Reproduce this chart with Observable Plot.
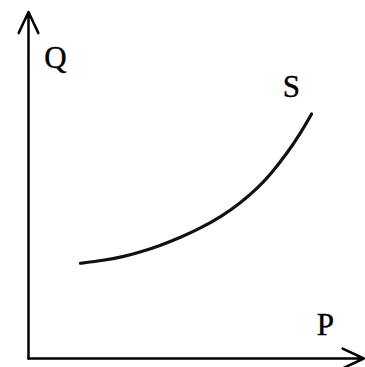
<!DOCTYPE html>
<html>
<head>
<meta charset="utf-8">
<script src="https://cdn.jsdelivr.net/npm/d3@7"></script>
<script src="https://cdn.jsdelivr.net/npm/@observablehq/plot@0.6"></script>
<style>
  html, body { margin: 0; padding: 0; background: #fff; }
</style>
</head>
<body>
<div id="chart"></div>
<script>
// Supply curve S (price P on x, quantity Q on y)
const curveP = [1.54, 2.23, 2.80, 3.32, 3.92, 4.51, 5.10, 5.70, 6.29, 6.83, 7.18, 7.68, 8.07, 8.40];
const curveQ = [2.66, 2.74, 2.84, 2.97, 3.16, 3.38, 3.64, 3.95, 4.34, 4.79, 5.14, 5.74, 6.29, 6.83];

// Axis arrows
const axisStart = [0, 0];
const xAxisEnd = [9.95, 0];
const yAxisEnd = [0, 9.68];

// Labels
const labelText = ["Q", "S", "P"];
const labelP = [0.80, 7.80, 8.81];
const labelQ = [8.38, 7.57, 0.92];

const curve = curveP.map((p, i) => ({p, q: curveQ[i]}));
const arrows = [
  {x1: axisStart[0], y1: axisStart[1], x2: xAxisEnd[0], y2: xAxisEnd[1]},
  {x1: axisStart[0], y1: axisStart[1], x2: yAxisEnd[0], y2: yAxisEnd[1]}
];
const labels = labelText.map((t, i) => ({t, p: labelP[i], q: labelQ[i]}));

const chart = Plot.plot({
  width: 365,
  height: 367,
  marginLeft: 28,
  marginRight: 0,
  marginTop: 0,
  marginBottom: 9,
  x: {domain: [0, 10], axis: null},
  y: {domain: [0, 10], axis: null},
  style: {background: "#fff"},
  marks: [
    Plot.arrow(arrows, {
      x1: "x1", y1: "y1", x2: "x2", y2: "y2",
      stroke: "#000", strokeWidth: 2.5, headLength: 14, headAngle: 50
    }),
    Plot.line(curve, {
      x: "p", y: "q", curve: "basis",
      stroke: "#111", strokeWidth: 3.2
    }),
    Plot.text(labels, {
      x: "p", y: "q", text: "t",
      fontFamily: "Liberation Serif", fontSize: 31, fill: "#000",
      stroke: "#000", strokeWidth: 0.4
    })
  ]
});
document.getElementById("chart").append(chart);
</script>
</body>
</html>
